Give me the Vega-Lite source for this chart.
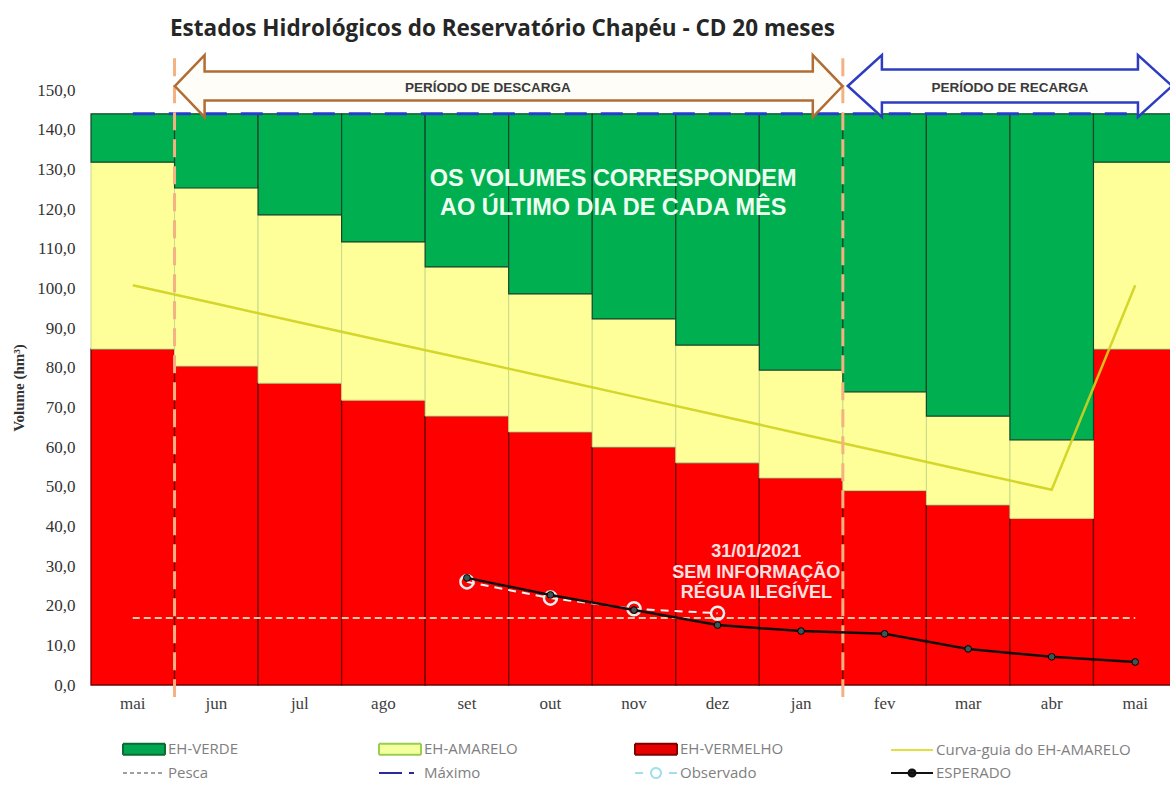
{
  "$schema": "https://vega.github.io/schema/vega-lite/v6.json",
  "width": 1079,
  "height": 595,
  "autosize": {"type": "none"},
  "padding": {"left": 91, "top": 90, "right": 0, "bottom": 103},
  "background": "white",
  "title": {
    "text": "Estados Hidrológicos do Reservatório Chapéu - CD 20 meses",
    "anchor": "start",
    "frame": "group",
    "dx": 79,
    "offset": 10,
    "font": "Open Sans",
    "fontSize": 22.5,
    "fontWeight": "bold",
    "color": "#262626"
  },
  "config": {
    "view": {"stroke": null},
    "axis": {"domain": false, "ticks": false, "grid": false, "labelOverlap": false},
    "axisY": {
      "labelOverlap": false,
      "titleFont": "Liberation Serif",
      "titleFontSize": 15,
      "titleFontWeight": "bold",
      "titleColor": "#333333",
      "titlePadding": 10,
      "labelFont": "Liberation Serif",
      "labelFontSize": 17,
      "labelColor": "#333333",
      "labelPadding": 16
    }
  },
  "datasets": {
    "meses": [
      {"mes": "mai/20", "vermelho": 84.7, "amarelo": 131.8, "verde": 144, "curva": 100.8, "maximo": 144, "pesca": 16.9, "esperado": null, "observado": null},
      {"mes": "jun/20", "vermelho": 80.4, "amarelo": 125.3, "verde": 144, "curva": 96.1, "maximo": 144, "pesca": 16.9, "esperado": null, "observado": null},
      {"mes": "jul/20", "vermelho": 76.1, "amarelo": 118.5, "verde": 144, "curva": 91.4, "maximo": 144, "pesca": 16.9, "esperado": null, "observado": null},
      {"mes": "ago/20", "vermelho": 71.8, "amarelo": 111.7, "verde": 144, "curva": 86.7, "maximo": 144, "pesca": 16.9, "esperado": null, "observado": null},
      {"mes": "set/20", "vermelho": 67.8, "amarelo": 105.4, "verde": 144, "curva": 82.1, "maximo": 144, "pesca": 16.9, "esperado": 27.0, "observado": 26.0},
      {"mes": "out/20", "vermelho": 63.8, "amarelo": 98.6, "verde": 144, "curva": 77.4, "maximo": 144, "pesca": 16.9, "esperado": 22.7, "observado": 21.9},
      {"mes": "nov/20", "vermelho": 60.0, "amarelo": 92.3, "verde": 144, "curva": 72.7, "maximo": 144, "pesca": 16.9, "esperado": 18.9, "observado": 19.2},
      {"mes": "dez/20", "vermelho": 56.0, "amarelo": 85.7, "verde": 144, "curva": 68.0, "maximo": 144, "pesca": 16.9, "esperado": 15.1, "observado": 18.1},
      {"mes": "jan/21", "vermelho": 52.2, "amarelo": 79.4, "verde": 144, "curva": 63.3, "maximo": 144, "pesca": 16.9, "esperado": 13.6, "observado": null},
      {"mes": "fev/21", "vermelho": 49.0, "amarelo": 73.9, "verde": 144, "curva": 58.6, "maximo": 144, "pesca": 16.9, "esperado": 12.9, "observado": null},
      {"mes": "mar/21", "vermelho": 45.4, "amarelo": 67.8, "verde": 144, "curva": 53.9, "maximo": 144, "pesca": 16.9, "esperado": 9.1, "observado": null},
      {"mes": "abr/21", "vermelho": 42.0, "amarelo": 61.8, "verde": 144, "curva": 49.2, "maximo": 144, "pesca": 16.9, "esperado": 7.1, "observado": null},
      {"mes": "mai/21", "vermelho": 84.7, "amarelo": 131.8, "verde": 144, "curva": 100.8, "maximo": 144, "pesca": 16.9, "esperado": 5.8, "observado": null}
    ],
    "divisas": [
      {"mes": "jun/20", "topo": 158, "base": -3},
      {"mes": "fev/21", "topo": 158, "base": -3}
    ],
    "series": [
      {"serie": "EH-VERDE"},
      {"serie": "EH-AMARELO"},
      {"serie": "EH-VERMELHO"},
      {"serie": "Curva-guia do EH-AMARELO"},
      {"serie": "Pesca"},
      {"serie": "Máximo"},
      {"serie": "Observado"},
      {"serie": "ESPERADO"}
    ]
  },
  "encoding": {
    "x": {
      "field": "mes",
      "type": "ordinal",
      "title": null,
      "scale": {
        "domain": ["mai/20", "jun/20", "jul/20", "ago/20", "set/20", "out/20", "nov/20", "dez/20", "jan/21", "fev/21", "mar/21", "abr/21", "mai/21"],
        "range": [0, 1086],
        "paddingInner": 0,
        "paddingOuter": 0
      },
      "axis": {
        "labelExpr": "split(datum.label, '/')[0]",
        "labelFont": "Liberation Serif",
        "labelFontSize": 17,
        "labelColor": "#404040",
        "labelPadding": 10,
        "labelAngle": 0,
        "labelOverlap": false,
        "domain": false,
        "ticks": false
      }
    }
  },
  "layer": [
    {
      "data": {"name": "meses"},
      "mark": {"type": "bar", "fill": "#ff0000", "stroke": "#6e0000", "strokeWidth": 1.3, "opacity": 1},
      "encoding": {
        "y": {"field": "vermelho", "type": "quantitative", "title": "Volume (hm³)", "scale": {"domain": [0, 150], "nice": false, "zero": true},
          "axis": {"title": "Volume (hm³)", "values": [0, 10, 20, 30, 40, 50, 60, 70, 80, 90, 100, 110, 120, 130, 140, 150], "labelExpr": "replace(format(datum.value, '.1f'), '.', ',')", "labelOverlap": false}}
      }
    },
    {
      "data": {"name": "meses"},
      "mark": {"type": "bar", "fill": "#ffff99", "stroke": "#c9d98a", "strokeWidth": 1, "opacity": 1},
      "encoding": {
        "y": {"field": "vermelho", "type": "quantitative", "title": "Volume (hm³)",
          "axis": {"title": "Volume (hm³)", "values": [0, 10, 20, 30, 40, 50, 60, 70, 80, 90, 100, 110, 120, 130, 140, 150], "labelExpr": "replace(format(datum.value, '.1f'), '.', ',')", "labelOverlap": false}},
        "y2": {"field": "amarelo"}
      }
    },
    {
      "data": {"name": "meses"},
      "mark": {"type": "bar", "fill": "#00b050", "stroke": "#16462a", "strokeWidth": 1.2, "opacity": 1},
      "encoding": {
        "y": {"field": "amarelo", "type": "quantitative", "title": "Volume (hm³)",
          "axis": {"title": "Volume (hm³)", "values": [0, 10, 20, 30, 40, 50, 60, 70, 80, 90, 100, 110, 120, 130, 140, 150], "labelExpr": "replace(format(datum.value, '.1f'), '.', ',')", "labelOverlap": false}},
        "y2": {"field": "verde"}
      }
    },
    {
      "data": {"name": "meses"},
      "mark": {"type": "line", "stroke": "#cfd21f", "strokeWidth": 2.5, "opacity": 0.9},
      "encoding": {"y": {"field": "curva", "type": "quantitative", "title": "Volume (hm³)",
          "axis": {"title": "Volume (hm³)", "values": [0, 10, 20, 30, 40, 50, 60, 70, 80, 90, 100, 110, 120, 130, 140, 150], "labelExpr": "replace(format(datum.value, '.1f'), '.', ',')", "labelOverlap": false}}}
    },
    {
      "data": {"name": "meses"},
      "mark": {"type": "line", "stroke": "#2a3cd0", "strokeWidth": 3, "strokeDash": [22, 14], "opacity": 1},
      "encoding": {"y": {"field": "maximo", "type": "quantitative", "title": "Volume (hm³)",
          "axis": {"title": "Volume (hm³)", "values": [0, 10, 20, 30, 40, 50, 60, 70, 80, 90, 100, 110, 120, 130, 140, 150], "labelExpr": "replace(format(datum.value, '.1f'), '.', ',')", "labelOverlap": false}}}
    },
    {
      "data": {"name": "meses"},
      "mark": {"type": "line", "stroke": "#f8cbad", "strokeWidth": 2, "strokeDash": [7, 4], "opacity": 1},
      "encoding": {"y": {"field": "pesca", "type": "quantitative", "title": "Volume (hm³)",
          "axis": {"title": "Volume (hm³)", "values": [0, 10, 20, 30, 40, 50, 60, 70, 80, 90, 100, 110, 120, 130, 140, 150], "labelExpr": "replace(format(datum.value, '.1f'), '.', ',')", "labelOverlap": false}}}
    },
    {
      "data": {"name": "divisas"},
      "mark": {"type": "rule", "stroke": "#f4b183", "strokeWidth": 3, "strokeDash": [18, 9], "opacity": 1},
      "encoding": {
        "x": {"field": "mes", "type": "ordinal", "bandPosition": 0},
        "y": {"field": "topo", "type": "quantitative", "title": "Volume (hm³)",
          "axis": {"title": "Volume (hm³)", "values": [0, 10, 20, 30, 40, 50, 60, 70, 80, 90, 100, 110, 120, 130, 140, 150], "labelExpr": "replace(format(datum.value, '.1f'), '.', ',')", "labelOverlap": false}},
        "y2": {"field": "base"}
      }
    },
    {
      "data": {"name": "meses"},
      "mark": {"type": "line", "stroke": "#f5f5f5", "strokeWidth": 2, "strokeDash": [8, 6], "opacity": 1},
      "encoding": {"y": {"field": "observado", "type": "quantitative", "title": "Volume (hm³)",
          "axis": {"title": "Volume (hm³)", "values": [0, 10, 20, 30, 40, 50, 60, 70, 80, 90, 100, 110, 120, 130, 140, 150], "labelExpr": "replace(format(datum.value, '.1f'), '.', ',')", "labelOverlap": false}}}
    },
    {
      "data": {"name": "meses"},
      "mark": {"type": "point", "shape": "circle", "filled": false, "stroke": "#e2f0f0", "strokeWidth": 2.5, "size": 170, "opacity": 1},
      "encoding": {"y": {"field": "observado", "type": "quantitative", "title": "Volume (hm³)",
          "axis": {"title": "Volume (hm³)", "values": [0, 10, 20, 30, 40, 50, 60, 70, 80, 90, 100, 110, 120, 130, 140, 150], "labelExpr": "replace(format(datum.value, '.1f'), '.', ',')", "labelOverlap": false}}}
    },
    {
      "data": {"name": "meses"},
      "mark": {"type": "line", "stroke": "#111111", "strokeWidth": 2.5, "opacity": 1},
      "encoding": {"y": {"field": "esperado", "type": "quantitative", "title": "Volume (hm³)",
          "axis": {"title": "Volume (hm³)", "values": [0, 10, 20, 30, 40, 50, 60, 70, 80, 90, 100, 110, 120, 130, 140, 150], "labelExpr": "replace(format(datum.value, '.1f'), '.', ',')", "labelOverlap": false}}}
    },
    {
      "data": {"name": "meses"},
      "mark": {"type": "point", "shape": "circle", "filled": true, "fill": "#3c5555", "stroke": "#000000", "strokeWidth": 1, "size": 45, "opacity": 1},
      "encoding": {"y": {"field": "esperado", "type": "quantitative", "title": "Volume (hm³)",
          "axis": {"title": "Volume (hm³)", "values": [0, 10, 20, 30, 40, 50, 60, 70, 80, 90, 100, 110, 120, 130, 140, 150], "labelExpr": "replace(format(datum.value, '.1f'), '.', ',')", "labelOverlap": false}}}
    },
    {
      "data": {"values": [{"mes": "nov/20", "v": 127.6, "txt": "OS VOLUMES CORRESPONDEM\nAO ÚLTIMO DIA DE CADA MÊS"}]},
      "mark": {"type": "text", "font": "Liberation Sans", "fontWeight": "bold", "fontSize": 23.5, "fill": "#eefff2", "lineBreak": "\n", "lineHeight": 29, "align": "center", "baseline": "middle"},
      "encoding": {
        "x": {"field": "mes", "type": "ordinal", "bandPosition": 0.25},
        "y": {"field": "v", "type": "quantitative", "title": "Volume (hm³)",
          "axis": {"title": "Volume (hm³)", "values": [0, 10, 20, 30, 40, 50, 60, 70, 80, 90, 100, 110, 120, 130, 140, 150], "labelExpr": "replace(format(datum.value, '.1f'), '.', ',')", "labelOverlap": false}},
        "text": {"field": "txt"}
      }
    },
    {
      "data": {"values": [{"mes": "jan/21", "v": 33.5, "txt": "31/01/2021\nSEM INFORMAÇÃO\nRÉGUA ILEGÍVEL"}]},
      "mark": {"type": "text", "font": "Liberation Sans", "fontWeight": "bold", "fontSize": 18, "fill": "#ffe2e2", "lineBreak": "\n", "lineHeight": 20.5, "align": "center", "baseline": "middle", "dx": -3},
      "encoding": {
        "x": {"field": "mes", "type": "ordinal", "bandPosition": 0},
        "y": {"field": "v", "type": "quantitative", "title": "Volume (hm³)",
          "axis": {"title": "Volume (hm³)", "values": [0, 10, 20, 30, 40, 50, 60, 70, 80, 90, 100, 110, 120, 130, 140, 150], "labelExpr": "replace(format(datum.value, '.1f'), '.', ',')", "labelOverlap": false}},
        "text": {"field": "txt"}
      }
    },
    {
      "data": {"values": [{"mes": "out/20", "v": 151}]},
      "mark": {"type": "point", "shape": "M -10.77 0 L -9.81 -1 L -9.81 -0.47 L 9.81 -0.47 L 9.81 -1 L 10.77 0 L 9.81 1 L 9.81 0.47 L -9.81 0.47 L -9.81 1 Z", "size": 3844, "filled": true, "fill": "#fffdf8", "stroke": "#b06d35", "strokeWidth": 2.5, "opacity": 1},
      "encoding": {
        "x": {"field": "mes", "type": "ordinal", "bandPosition": 0},
        "y": {"field": "v", "type": "quantitative", "title": "Volume (hm³)",
          "axis": {"title": "Volume (hm³)", "values": [0, 10, 20, 30, 40, 50, 60, 70, 80, 90, 100, 110, 120, 130, 140, 150], "labelExpr": "replace(format(datum.value, '.1f'), '.', ',')", "labelOverlap": false}}
      }
    },
    {
      "data": {"values": [{"mes": "abr/21", "v": 151}]},
      "mark": {"type": "point", "shape": "M -5.23 0 L -4.13 -1 L -4.13 -0.53 L 4.13 -0.53 L 4.13 -1 L 5.23 0 L 4.13 1 L 4.13 0.53 L -4.13 0.53 L -4.13 1 Z", "size": 3844, "filled": true, "fill": "#fffefe", "stroke": "#2d3cc0", "strokeWidth": 2.5, "opacity": 1},
      "encoding": {
        "x": {"field": "mes", "type": "ordinal", "bandPosition": 0},
        "y": {"field": "v", "type": "quantitative", "title": "Volume (hm³)",
          "axis": {"title": "Volume (hm³)", "values": [0, 10, 20, 30, 40, 50, 60, 70, 80, 90, 100, 110, 120, 130, 140, 150], "labelExpr": "replace(format(datum.value, '.1f'), '.', ',')", "labelOverlap": false}}
      }
    },
    {
      "data": {"values": [{"mes": "set/20", "v": 150.5, "txt": "PERÍODO DE DESCARGA"}]},
      "mark": {"type": "text", "font": "Liberation Sans", "fontWeight": "bold", "fontSize": 13.5, "fill": "#3a3a3a", "align": "center", "baseline": "middle"},
      "encoding": {
        "x": {"field": "mes", "type": "ordinal", "bandPosition": 0.75},
        "y": {"field": "v", "type": "quantitative", "title": "Volume (hm³)",
          "axis": {"title": "Volume (hm³)", "values": [0, 10, 20, 30, 40, 50, 60, 70, 80, 90, 100, 110, 120, 130, 140, 150], "labelExpr": "replace(format(datum.value, '.1f'), '.', ',')", "labelOverlap": false}},
        "text": {"field": "txt"}
      }
    },
    {
      "data": {"values": [{"mes": "abr/21", "v": 150.5, "txt": "PERÍODO DE RECARGA"}]},
      "mark": {"type": "text", "font": "Liberation Sans", "fontWeight": "bold", "fontSize": 13.5, "fill": "#3a3a3a", "align": "center", "baseline": "middle"},
      "encoding": {
        "x": {"field": "mes", "type": "ordinal", "bandPosition": 0},
        "y": {"field": "v", "type": "quantitative", "title": "Volume (hm³)",
          "axis": {"title": "Volume (hm³)", "values": [0, 10, 20, 30, 40, 50, 60, 70, 80, 90, 100, 110, 120, 130, 140, 150], "labelExpr": "replace(format(datum.value, '.1f'), '.', ',')", "labelOverlap": false}},
        "text": {"field": "txt"}
      }
    },
    {
      "data": {"name": "series"},
      "mark": {"type": "point", "opacity": 0, "size": 1, "filled": true},
      "encoding": {
        "x": {"datum": "mai/20", "type": "ordinal"},
        "y": {"datum": 0, "type": "quantitative", "title": "Volume (hm³)",
          "axis": {"title": "Volume (hm³)", "values": [0, 10, 20, 30, 40, 50, 60, 70, 80, 90, 100, 110, 120, 130, 140, 150], "labelExpr": "replace(format(datum.value, '.1f'), '.', ',')", "labelOverlap": false}},
        "fill": {
          "field": "serie",
          "type": "nominal",
          "scale": {
            "domain": ["EH-VERDE", "EH-AMARELO", "EH-VERMELHO", "Curva-guia do EH-AMARELO", "Pesca", "Máximo", "Observado", "ESPERADO"],
            "range": ["#00a651", "#f4ffa0", "#e60000", "transparent", "transparent", "transparent", "transparent", "#222222"]
          },
          "legend": {
            "title": null, "orient": "none", "direction": "horizontal", "legendX": 42, "legendY": 648,
            "columns": 4, "gridAlign": "all", "columnPadding": 12, "rowPadding": 3,
            "symbolSize": 400, "symbolStrokeWidth": 2, "symbolOpacity": 1, "labelOffset": 13, "labelLimit": 300,
            "padding": 0, "labelFont": "Open Sans", "labelFontSize": 15, "labelColor": "#808080"
          }
        },
        "stroke": {
          "field": "serie",
          "type": "nominal",
          "scale": {
            "domain": ["EH-VERDE", "EH-AMARELO", "EH-VERMELHO", "Curva-guia do EH-AMARELO", "Pesca", "Máximo", "Observado", "ESPERADO"],
            "range": ["#0b6b30", "#9acd50", "#800000", "#e0e040", "#a0a0a0", "#2a2a9a", "#9fe0ea", "#111111"]
          },
          "legend": {
            "title": null, "orient": "none", "direction": "horizontal", "legendX": 42, "legendY": 648,
            "columns": 4, "gridAlign": "all", "columnPadding": 12, "rowPadding": 3,
            "symbolSize": 400, "symbolStrokeWidth": 2, "symbolOpacity": 1, "labelOffset": 13, "labelLimit": 300,
            "padding": 0, "labelFont": "Open Sans", "labelFontSize": 15, "labelColor": "#808080"
          }
        },
        "shape": {
          "field": "serie",
          "type": "nominal",
          "scale": {
            "domain": ["EH-VERDE", "EH-AMARELO", "EH-VERMELHO", "Curva-guia do EH-AMARELO", "Pesca", "Máximo", "Observado", "ESPERADO"],
            "range": [
              "M -2.1 -0.55 H 2.1 V 0.55 H -2.1 Z",
              "M -2.1 -0.55 H 2.1 V 0.55 H -2.1 Z",
              "M -2.1 -0.55 H 2.1 V 0.55 H -2.1 Z",
              "M -2.1 0 H 2.1",
              "M -2.1 0 H 2.1",
              "M -2.1 0 H 0.2 M 0.9 0 H 1.4",
              "M -2.1 0 H -1.3 M -0.5 0 A 0.5 0.5 0 1 1 0.5 0 A 0.5 0.5 0 1 1 -0.5 0 M 1.3 0 H 2.1",
              "M -2.1 0 H 2.1 M -0.35 0 A 0.35 0.35 0 1 1 0.35 0 A 0.35 0.35 0 1 1 -0.35 0"
            ]
          },
          "legend": {
            "title": null, "orient": "none", "direction": "horizontal", "legendX": 42, "legendY": 648,
            "columns": 4, "gridAlign": "all", "columnPadding": 12, "rowPadding": 3,
            "symbolSize": 400, "symbolStrokeWidth": 2, "symbolOpacity": 1, "labelOffset": 13, "labelLimit": 300,
            "padding": 0, "labelFont": "Open Sans", "labelFontSize": 15, "labelColor": "#808080"
          }
        },
        "strokeDash": {
          "field": "serie",
          "type": "nominal",
          "scale": {
            "domain": ["EH-VERDE", "EH-AMARELO", "EH-VERMELHO", "Curva-guia do EH-AMARELO", "Pesca", "Máximo", "Observado", "ESPERADO"],
            "range": [[1, 0], [1, 0], [1, 0], [1, 0], [4, 3], [1, 0], [1, 0], [1, 0]]
          },
          "legend": {
            "title": null, "orient": "none", "direction": "horizontal", "legendX": 42, "legendY": 648,
            "columns": 4, "gridAlign": "all", "columnPadding": 12, "rowPadding": 3,
            "symbolSize": 400, "symbolStrokeWidth": 2, "symbolOpacity": 1, "labelOffset": 13, "labelLimit": 300,
            "padding": 0, "labelFont": "Open Sans", "labelFontSize": 15, "labelColor": "#808080"
          }
        }
      }
    }
  ]
}
